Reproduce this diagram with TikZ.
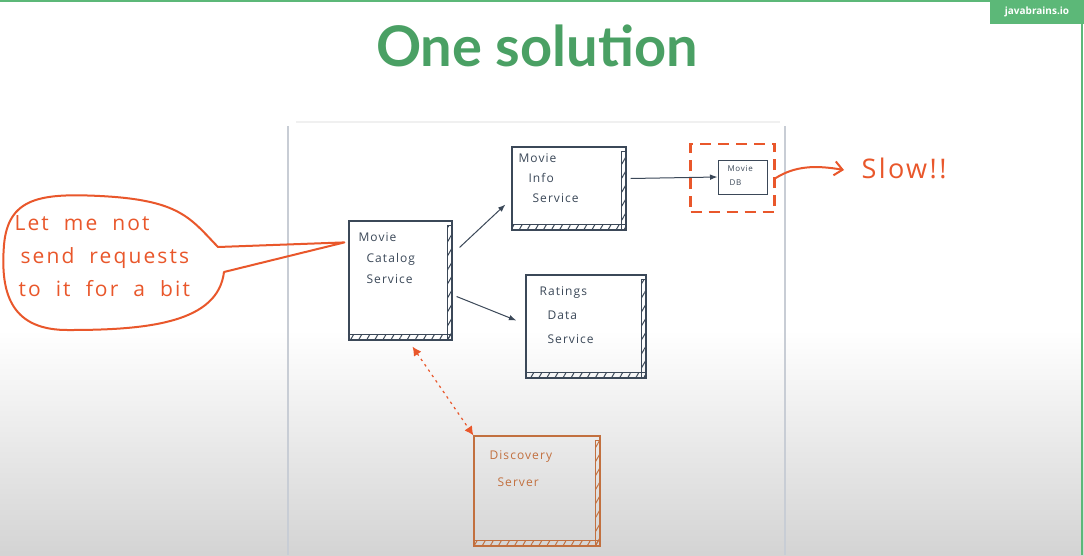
\documentclass[tikz,border=0pt]{standalone}
\usepackage{fontspec}
\setmainfont{Open Sans}
\newfontfamily\titlefont{Lato}
\newfontfamily\penfont[LetterSpace=9]{Open Sans}
\newfontfamily\bubblefont[LetterSpace=10,WordSpace=2.0]{Open Sans}
\usetikzlibrary{arrows.meta,positioning,calc,patterns.meta}
\definecolor{ink}{HTML}{3B4858}
\definecolor{redpen}{HTML}{E9572B}
\definecolor{brownpen}{HTML}{C2703F}
\definecolor{titlegreen}{HTML}{4AA064}
\definecolor{barGreen}{HTML}{5CB878}
\definecolor{paperedge}{HTML}{C8CDD5}
\tikzset{every node/.style={align=left}, >=Latex,
  service/.style={draw=ink, line width=1.2pt, inner sep=0pt},
  hatchstrip/.style={draw=#1, line width=0.9pt, pattern={Lines[angle=60,distance=7pt,line width=1pt]}, pattern color=#1},
  inktext/.style={text=ink, font=\penfont\fontsize{12}{21}\selectfont, anchor=north west},
  pentext/.style={text=redpen, font=\bubblefont\fontsize{21}{33}\selectfont}}

\begin{document}
\begin{tikzpicture}[x=1pt, y=-1pt]
  \useasboundingbox (0,0) rectangle (1084,555);
  % background and paper
  \fill[white] (0,0) rectangle (1084,330);
  \shade[top color=white, bottom color=black!17] (0,330) rectangle (1084,555);
  \draw[black!6, line width=2pt] (296,122) -- (780,122);
  \draw[paperedge, line width=2pt] (288,126) -- (288,555);
  \draw[paperedge, line width=2pt] (785,126) -- (785,555);
  \draw[barGreen, line width=2.5pt] (0,1) -- (1084,1);
  \draw[barGreen, line width=2pt] (1082,0) -- (1082,555);
  \node[fill=barGreen, text=white, font=\bfseries\fontsize{10}{12}\selectfont, minimum width=94pt, minimum height=24pt, inner sep=0pt, align=center] (brand) at (1037,12) {javabrains.io};
  \node[text=titlegreen, font=\titlefont\bfseries\fontsize{56}{60}\selectfont, align=center] (title) at (537,46) {One solution};

  % services
  \node[service, minimum width=103pt, minimum height=119pt] (cat) at (400.5,280.5) {};
  \node[service, minimum width=114pt, minimum height=83pt] (info) at (569,188.5) {};
  \node[service, minimum width=120pt, minimum height=103pt] (rate) at (586,326.5) {};
  \node[service, line width=1pt, minimum width=49pt, minimum height=34pt] (db) at (742.5,177) {};
  \node[service, draw=brownpen, minimum width=126pt, minimum height=110pt] (disc) at (537,491) {};
  \foreach \b/\c in {cat/ink, info/ink, rate/ink, disc/brownpen} {
    \path[hatchstrip=\c] ($(\b.north east)+(-5,5)$) rectangle (\b.south east);
    \path[hatchstrip=\c] ($(\b.south west)+(0,-6)$) rectangle (\b.south east);
  }
  \node[inktext] (cattxt) at (355,229) {Movie\\\hspace*{8pt}Catalog\\\hspace*{8pt}Service};
  \node[inktext, font=\penfont\fontsize{12}{20}\selectfont] (infotxt) at (515,150) {Movie\\\hspace*{10pt}Info\\\hspace*{14pt}Service};
  \node[inktext, font=\penfont\fontsize{12}{24}\selectfont] (ratetxt) at (536,283) {Ratings\\\hspace*{8pt}Data\\\hspace*{8pt}Service};
  \node[inktext, font=\penfont\fontsize{8}{14}\selectfont] (dbtxt) at (724,162) {Movie\\\hspace*{2pt}DB};
  \node[inktext, text=brownpen, font=\penfont\fontsize{12}{27}\selectfont] (disctxt) at (486,447) {Discovery\\\hspace*{8pt}Server};

  % calls
  \draw[->, ink, line width=1pt] ($(cat.north east)+(7,27)$) -- ($(info.west)+(-6,16)$);
  \draw[->, ink, line width=1pt] ($(cat.east)+(4,16)$) -- ($(rate.west)+(-9,-6)$);
  \draw[->, ink, line width=1pt] ($(info.east)+(4,-10)$) -- (db.west);
  \draw[{Latex[length=9pt,width=9pt]}-{Latex[length=9pt,width=9pt]}, redpen, line width=1.2pt, dash pattern=on 2.5pt off 4pt]
    ($(cat.south)+(12,6)$) -- (disc.north west);

  % slow database
  \node[draw=redpen, line width=2.5pt, dash pattern=on 11pt off 7pt, minimum width=84pt, minimum height=68pt] (slowbox) at (732.5,178) {};
  \node[text=redpen, font=\penfont\fontsize{27}{30}\selectfont, anchor=west] (slow) at (858,168) {Slow!!};
  \draw[-{Straight Barb[length=8pt,width=14pt]}, redpen, line width=2pt]
    (slowbox.east) .. controls (795,166) and (815,165) .. ($(slow.west)+(-14,2)$);

  % speech bubble
  \coordinate (tip) at ($(cat.north west)+(-4,22)$);
  \draw[redpen, line width=2pt, line join=round]
    (tip) -- (218,247) .. controls (190,218) and (180,200) .. (100,196)
    .. controls (40,193) and (8,198) .. (4,245)
    .. controls (0,295) and (12,331) .. (70,330)
    .. controls (150,330) and (218,322) .. (224,272) -- cycle;
  \node[pentext, anchor=north west] (bubble) at (11,212) {Let me not\\\hspace*{6pt}send requests\\\hspace*{4pt}to it for a bit};
\end{tikzpicture}
\end{document}
